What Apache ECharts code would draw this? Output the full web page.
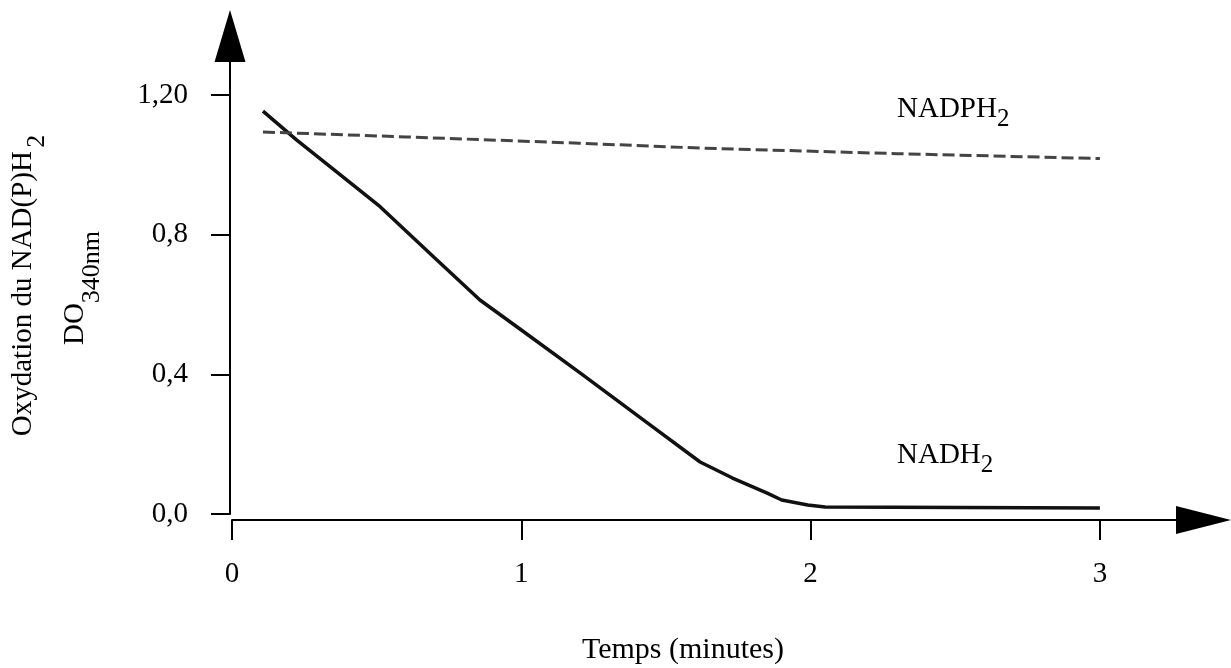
<!DOCTYPE html>
<html><head><meta charset="utf-8">
<script src="https://cdn.jsdelivr.net/npm/echarts@6/dist/echarts.min.js"></script>
<style>html,body{margin:0;padding:0;background:#fff}#c{width:1231px;height:668px}</style>
</head><body><div id="c"></div>
<script>
const xTickValues = [0, 1, 2, 3];
const xTickLabels = ['0', '1', '2', '3'];
const yTickValues = [0, 0.4, 0.8, 1.2];
const yTickLabels = ['0,0', '0,4', '0,8', '1,20'];

const nadhTime  = [0.107, 0.224, 0.339, 0.512, 0.700, 0.857, 1.000, 1.203, 1.445, 1.618, 1.730, 1.850, 1.900, 1.990, 2.050, 3.000];
const nadhValue = [1.154, 1.071, 0.995, 0.880, 0.734, 0.613, 0.527, 0.404, 0.255, 0.149, 0.103, 0.060, 0.040, 0.026, 0.020, 0.017];

const nadphTime  = [0.107, 0.600, 1.200, 1.618, 2.300, 3.000];
const nadphValue = [1.094, 1.080, 1.062, 1.048, 1.032, 1.018];

const FONT = '"Liberation Serif", "Times New Roman", serif';

const zip = (a, b) => a.map((v, i) => [v, b[i]]);

const chart = echarts.init(document.getElementById('c'), null, {renderer: 'canvas'});

const mainStyle = {fontSize: 29, fontFamily: FONT, lineHeight: 34, verticalAlign: 'top', fill: '#000', color: '#000'};
const subStyle = (size, pad) => ({fontSize: size, fontFamily: FONT, lineHeight: size, padding: [pad, 0, 0, 0], verticalAlign: 'top', fill: '#000', color: '#000'});

chart.setOption({
  animation: false,
  backgroundColor: '#fff',
  grid: {left: 232, right: 27.5, top: 36, bottom: 154, containLabel: false, outerBoundsMode: 'none'},
  xAxis: {
    type: 'value', min: 0, max: 3.358, offset: 6,
    axisLine: {show: true, onZero: false, symbol: ['none', 'triangle'], symbolSize: [28, 55],
      lineStyle: {color: '#000', width: 2}},
    axisTick: {show: true, length: 20, customValues: xTickValues, lineStyle: {color: '#000', width: 2}},
    axisLabel: {customValues: xTickValues, margin: 40, fontSize: 29, fontFamily: FONT, color: '#000',
      formatter: v => xTickLabels[xTickValues.indexOf(v)]},
    splitLine: {show: false}
  },
  yAxis: {
    type: 'value', min: 0, max: 1.369, offset: 2,
    axisLine: {show: true, onZero: false, symbol: ['none', 'triangle'], symbolSize: [31, 52],
      lineStyle: {color: '#000', width: 2}},
    axisTick: {show: true, length: 19, customValues: yTickValues, lineStyle: {color: '#000', width: 2}},
    axisLabel: {customValues: yTickValues, margin: 42, fontSize: 29, fontFamily: FONT, color: '#000',
      formatter: v => yTickLabels[yTickValues.findIndex(t => Math.abs(t - v) < 1e-6)]},
    splitLine: {show: false}
  },
  series: [
    {name: 'NADH2', type: 'line', data: zip(nadhTime, nadhValue), symbol: 'none',
      lineStyle: {color: '#111', width: 3.5}},
    {name: 'NADPH2', type: 'line', data: zip(nadphTime, nadphValue), symbol: 'none',
      lineStyle: {color: '#444', width: 3, type: [12, 5]}}
  ],
  graphic: [
    {type: 'text', x: 683, y: 650, style: {text: 'Temps (minutes)', font: '30px ' + FONT, fill: '#000',
      align: 'center', verticalAlign: 'middle'}},
    {type: 'text', x: 9, y: 285.5, rotation: Math.PI / 2, style: {
      text: '{m|Oxydation du NAD(P)H} {s|2}', align: 'center', verticalAlign: 'top',
      rich: {m: mainStyle, s: subStyle(26, 15)}}},
    {type: 'text', x: 61, y: 288, rotation: Math.PI / 2, style: {
      text: '{m|DO}{s|340nm}', align: 'center', verticalAlign: 'top',
      rich: {m: mainStyle, s: subStyle(26, 18)}}},
    {type: 'text', x: 897, y: 94.5, style: {
      text: '{m|NADPH}{s|2}', align: 'left', verticalAlign: 'top',
      rich: {m: mainStyle, s: subStyle(25, 12)}}},
    {type: 'text', x: 897, y: 440.5, style: {
      text: '{m|NADH}{s|2}', align: 'left', verticalAlign: 'top',
      rich: {m: mainStyle, s: subStyle(25, 12)}}}
  ]
});
</script>
</body></html>
